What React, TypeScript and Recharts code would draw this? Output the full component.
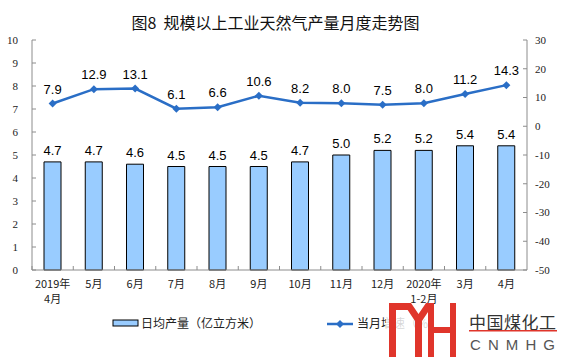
import React from "react";
import { ComposedChart, Bar, Line, XAxis, YAxis, LabelList } from "recharts";

// values
const months = [
  "2019年\n4月",
  "5月",
  "6月",
  "7月",
  "8月",
  "9月",
  "10月",
  "11月",
  "12月",
  "2020年\n1-2月",
  "3月",
  "4月",
];
const dailyOutput = [4.7, 4.7, 4.6, 4.5, 4.5, 4.5, 4.7, 5.0, 5.2, 5.2, 5.4, 5.4];
const growthRate = [7.9, 12.9, 13.1, 6.1, 6.6, 10.6, 8.2, 8.0, 7.5, 8.0, 11.2, 14.3];
const leftTicks = [0, 1, 2, 3, 4, 5, 6, 7, 8, 9, 10];
const rightTicks = [-50, -40, -30, -20, -10, 0, 10, 20, 30];

const data = months.map((m, i) => ({
  month: m,
  output: dailyOutput[i],
  growth: growthRate[i],
}));

const W = 561;
const H = 357;
const LEFT_W = 32;
const RIGHT_W = 34;
const BAND = (W - LEFT_W - RIGHT_W) / months.length;

const BAR_FILL = "#99CCFF";
const LINE_COLOR = "#2A6EC6";
const AXIS_COLOR = "#8C8C8C";
const LOGO_RED = "#E0352B";
const CJK = '"Noto Sans CJK SC", "Noto Sans", sans-serif';
const SERIF = '"Liberation Serif", "DejaVu Serif", serif';
const SANS = '"Liberation Sans", Arial, sans-serif';

// category label + a small inward tick at the band's left edge
function MonthTick(props: any) {
  const { x, y, payload } = props;
  const lines = String(payload.value).split("\n");
  const bx = x - BAND / 2;
  return (
    <g>
      <line x1={bx} x2={bx} y1={y - 4} y2={y} stroke={AXIS_COLOR} strokeWidth={1} />
      <text x={x} y={y + 18} textAnchor="middle" fontSize={11} fontFamily={CJK} fill="#222">
        {lines.map((l, i) => (
          <tspan key={i} x={x} dy={i === 0 ? 0 : 15}>
            {l}
          </tspan>
        ))}
      </text>
    </g>
  );
}

function Diamond(props: any) {
  const { cx, cy } = props;
  if (cx == null || cy == null) return null;
  const r = 4;
  return (
    <polygon
      points={`${cx},${cy - r} ${cx + r},${cy} ${cx},${cy + r} ${cx - r},${cy}`}
      fill={LINE_COLOR}
    />
  );
}

export default function App() {
  return (
    <div style={{ position: "relative", width: W, height: H, background: "#fff" }}>
      <style>{"body{margin:0}"}</style>
      <div
        style={{
          position: "absolute",
          top: 12,
          left: 0,
          width: W - 10,
          textAlign: "center",
          fontFamily: CJK,
          fontSize: 16,
          lineHeight: "20px",
          color: "#111",
        }}
      >
        图8&nbsp;&nbsp;规模以上工业天然气产量月度走势图
      </div>
      <ComposedChart
        width={W}
        height={H}
        data={data}
        margin={{ top: 40, right: 0, bottom: 50, left: 0 }}
      >
        <XAxis
          dataKey="month"
          height={37}
          interval={0}
          axisLine={{ stroke: AXIS_COLOR }}
          tickLine={false}
          tickSize={0}
          tickMargin={0}
          tick={<MonthTick />}
        />
        <YAxis
          yAxisId="left"
          orientation="left"
          width={LEFT_W}
          domain={[0, 10]}
          ticks={leftTicks}
          interval={0}
          axisLine={{ stroke: AXIS_COLOR }}
          tickLine={{ stroke: AXIS_COLOR }}
          tickSize={-4}
          tickMargin={18}
          tick={{ fontSize: 11, fontFamily: SERIF, fill: "#222" }}
        />
        <YAxis
          yAxisId="right"
          orientation="right"
          width={RIGHT_W}
          domain={[-50, 30]}
          ticks={rightTicks}
          interval={0}
          axisLine={{ stroke: AXIS_COLOR }}
          tickLine={{ stroke: AXIS_COLOR }}
          tickSize={-4}
          tickMargin={12}
          tick={{ fontSize: 11, fontFamily: SERIF, fill: "#222", textAnchor: "start" }}
        />
        <Bar
          yAxisId="left"
          dataKey="output"
          barSize={17}
          fill={BAR_FILL}
          stroke="#000"
          strokeWidth={1}
          isAnimationActive={false}
        >
          <LabelList
            dataKey="output"
            position="top"
            offset={7}
            formatter={(v: any) => Number(v).toFixed(1)}
            style={{ fontSize: 13, fontFamily: SANS, fill: "#000" }}
          />
        </Bar>
        <Line
          yAxisId="right"
          dataKey="growth"
          stroke={LINE_COLOR}
          strokeWidth={2.5}
          dot={<Diamond />}
          activeDot={false}
          isAnimationActive={false}
        >
          <LabelList
            dataKey="growth"
            position="top"
            offset={10}
            formatter={(v: any) => Number(v).toFixed(1)}
            style={{ fontSize: 13, fontFamily: SANS, fill: "#000" }}
          />
        </Line>
      </ComposedChart>

      {/* legend */}
      <svg style={{ position: "absolute", left: 0, top: 0 }} width={W} height={H}>
        <rect x={113} y={320} width={25} height={6} fill={BAR_FILL} stroke="#000" strokeWidth={1} />
        <text x={141} y={328} fontSize={12} fontFamily={CJK} fill="#222">
          日均产量（亿立方米）
        </text>
        <line x1={327} x2={353} y1={324} y2={324} stroke={LINE_COLOR} strokeWidth={2.5} />
        <polygon points="340,320 344,324 340,328 336,324" fill={LINE_COLOR} />
        <text x={357} y={328} fontSize={12} fontFamily={CJK} fill="#222">
          当月增速（%）
        </text>

        {/* watermark over the bottom-right corner */}
        <rect x={386} y={309} width={175} height={48} fill="#fff" opacity={0.82} />
        <g fill={LOGO_RED}>
          <rect x={389} y={303} width={7} height={54} />
          <rect x={389} y={303} width={22} height={7} />
          <polygon points="403,303 411,303 418.5,314 426,303 434,303 422,321 422,357 415,357 415,321" />
          <rect x={428} y={303} width={6} height={54} />
          <rect x={433} y={327} width={18} height={6} />
          <rect x={450} y={303} width={6} height={54} />
        </g>
        <text x={469} y={329} fontSize={17} fontFamily={CJK} fill="#333" letterSpacing={0.5}>
          中国煤化工
        </text>
        <rect x={469} y={330} width={88} height={1.5} fill={LOGO_RED} />
        <text
          x={470}
          y={350}
          fontSize={15}
          fontFamily={SANS}
          fill="#555"
          textLength={85}
          lengthAdjust="spacing"
        >
          CNMHG
        </text>
      </svg>
    </div>
  );
}
